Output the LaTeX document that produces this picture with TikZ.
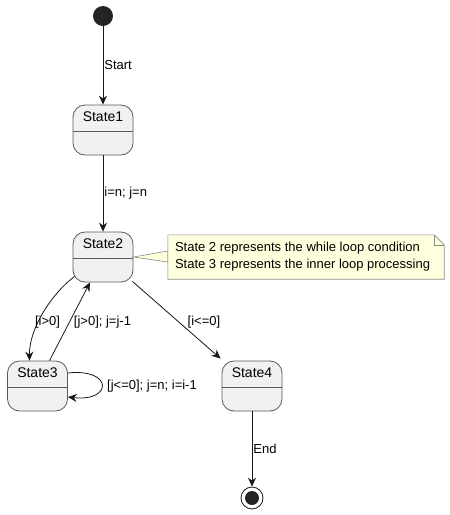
\documentclass[tikz,border=0pt]{standalone}
\usepackage{fontspec}
\setmainfont{Liberation Sans}
\usetikzlibrary{arrows.meta,calc}
\definecolor{stfill}{HTML}{F1F1F1}
\definecolor{stline}{HTML}{5A5A5A}
\definecolor{arrline}{HTML}{181818}
\definecolor{notefill}{HTML}{FEFFDD}
\definecolor{noteline}{HTML}{8A8A8A}
\tikzset{
  statebox/.style={draw=stline, fill=stfill, line width=0.8pt, rounded corners=12pt,
    minimum width=60pt, minimum height=50pt, inner sep=0pt},
  statetitle/.style={font=\fontsize{14}{16}\selectfont, inner sep=0pt},
  divider/.style={draw=stline, line width=0.8pt},
  arr/.style={draw=arrline, line width=0.8pt, -{Stealth[length=9pt,width=8pt,inset=3pt]}},
  lbl/.style={font=\fontsize{13}{15}\selectfont, inner sep=0pt, text=black},
  notebd/.style={draw=noteline, fill=notefill, line width=0.6pt},
}
\begin{document}
\begin{tikzpicture}[x=1pt,y=-1pt]
\useasboundingbox (0,0) rectangle (450,515);
% start / end
\node[circle, fill=arrline!95!white, minimum size=20pt, inner sep=0pt] (start) at (103,16) {};
\node[circle, draw=arrline, line width=0.8pt, fill=white, minimum size=22pt, inner sep=0pt] (end) at (252,498) {};
\node[circle, fill=arrline!95!white, minimum size=14pt, inner sep=0pt] (endin) at (252,498) {};
% states
\node[statebox] (s1) at (103,130) {};
\node[statebox] (s2) at (103,257) {};
\node[statebox] (s3) at (37.5,386) {};
\node[statebox] (s4) at (252,386) {};
\foreach \s/\t in {s1/State1,s2/State2,s3/State3,s4/State4}{
  \node[statetitle] (\s t) at ([yshift=-12pt]\s.north) {\t};
  \draw[divider] ([yshift=-26.5pt]\s.north west) -- ([yshift=-26.5pt]\s.north east);
}
% note
\node[minimum width=276pt, minimum height=44pt, inner sep=0pt] (note) at (306,257) {};
\draw[notebd] (s2.east) -- ([yshift=6pt]note.west) -- ([yshift=-5pt]note.west) -- cycle;
\draw[notebd] (note.north west) -- ([xshift=-10pt]note.north east) -- ([yshift=-10pt]note.north east)
  -- (note.south east) -- (note.south west) -- cycle;
\draw[draw=noteline, line width=0.6pt] ([xshift=-10pt]note.north east) -- ([xshift=-10pt,yshift=-10pt]note.north east) -- ([yshift=-10pt]note.north east);
\node[lbl, anchor=west, align=left, font=\fontsize{13}{17}\selectfont] (notetext) at ([xshift=7pt]note.west)
  {State 2 represents the while loop condition\\State 3 represents the inner loop processing};
% edges
\draw[arr] (start) -- node[lbl, anchor=west, xshift=1pt] (lstart) {Start} (s1);
\draw[arr] (s1) -- node[lbl, anchor=west, xshift=1pt] (l12) {i=n; j=n} (s2);
\draw[arr] ([xshift=2pt,yshift=6pt]s2.south west) .. controls (50,295) and (29,330) .. ([xshift=-8pt]s3.north);
\node[lbl] (l23) at (47.5,322) {[i>0]};
\draw[arr] ([xshift=12pt]s3.north) -- ([xshift=-13pt]s2.south);
\node[lbl] (l32) at (102.5,322) {[j>0]; j=j-1};
\draw[arr] ([xshift=-1pt,yshift=1pt]s2.south east) -- ([xshift=-1pt,yshift=2pt]s4.north west);
\node[lbl] (l24) at (204,322) {[i<=0]};
\draw[arr] ([yshift=13pt]s3.east) .. controls (113,368) and (113,402) .. ([yshift=-11pt]s3.east);
\node[lbl, anchor=west] (l33) at (107,386) {[j<=0]; j=n; i=i-1};
\draw[arr] (s4) -- node[lbl, anchor=west, xshift=1pt] (lend) {End} (end);
\end{tikzpicture}
\end{document}
